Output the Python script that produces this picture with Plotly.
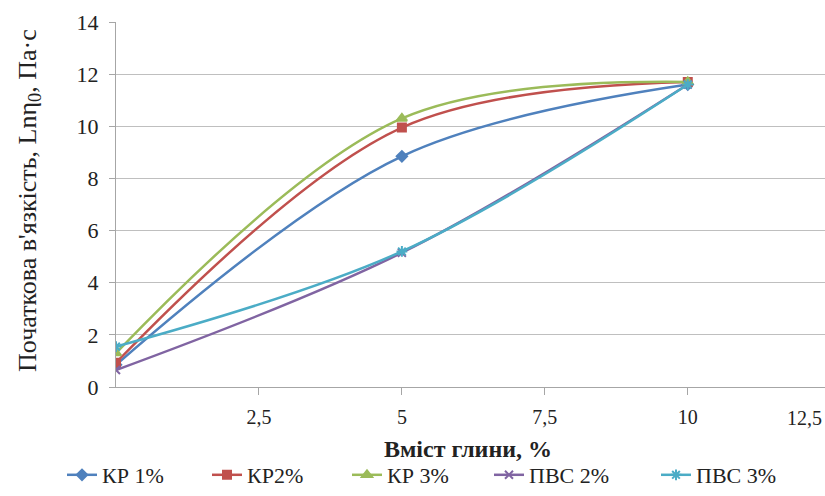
import plotly.graph_objects as go

x_vals = [0, 5, 10]
series_names = ["КР 1%", "КР2%", "КР 3%", "ПВС 2%", "ПВС 3%"]
kr1 = [0.85, 8.85, 11.6]
kr2 = [0.93, 9.95, 11.7]
kr3 = [1.3, 10.3, 11.7]
pvs2 = [0.65, 5.15, 11.6]
pvs3 = [1.55, 5.2, 11.6]
x_tickvals = [2.5, 5, 7.5, 10]
x_ticktext = ["2,5", "5", "7,5", "10"]
y_tickvals = [0, 2, 4, 6, 8, 10, 12, 14]

colors = ["#4F81BD", "#C0504D", "#9BBB59", "#8064A2", "#4BACC6"]
symbols = ["diamond", "square", "triangle-up", "x-thin-open", "asterisk-open"]
sizes = [8, 8, 9, 8, 9]
data = [kr1, kr2, kr3, pvs2, pvs3]
legend_ids = ["legend", "legend2", "legend3", "legend4", "legend5"]
legend_x_px = [62, 207, 347, 489, 656]

font_family = "Liberation Serif"

fig = go.Figure()
for name, ys, c, s, sz, lg in zip(series_names, data, colors, symbols, sizes, legend_ids):
    fig.add_trace(go.Scatter(
        x=x_vals, y=ys, name=name, mode="lines+markers", legend=lg,
        line=dict(color=c, width=2.5, shape="spline", smoothing=1.0),
        marker=dict(symbol=s, size=sz, color=c, line=dict(color=c, width=2)),
    ))

legend_layout = {}
for lg, px in zip(legend_ids, legend_x_px):
    legend_layout[lg] = dict(
        orientation="h", x=px / 825, xref="container", xanchor="left",
        y=0.0, yref="container", yanchor="bottom",
        font=dict(size=22, family=font_family, color="#222"),
        itemwidth=30, bgcolor="rgba(0,0,0,0)", borderwidth=0)

fig.update_layout(
    width=825, height=496,
    margin=dict(l=116, r=0, t=22, b=109, autoexpand=False),
    plot_bgcolor="white", paper_bgcolor="white",
    font=dict(family=font_family, size=20, color="#222"),
    showlegend=True,
    xaxis=dict(range=[0, 12.4], tickvals=x_tickvals, ticktext=x_ticktext,
               showgrid=False, zeroline=False, showline=True, linecolor="#A6A6A6",
               ticks="outside", ticklen=7, tickcolor="#A6A6A6",
               ticklabelstandoff=5, tickfont=dict(size=20, family=font_family)),
    yaxis=dict(range=[0, 14], tickvals=y_tickvals, showgrid=True, gridcolor="#BFBFBF",
               zeroline=False, showline=True, linecolor="#A6A6A6",
               ticks="outside", ticklen=6, tickcolor="#A6A6A6",
               ticklabelstandoff=6, tickfont=dict(size=22, family=font_family)),
    annotations=[
        dict(text="12,5", xref="paper", yref="paper", x=0.999, y=-0.085,
             xanchor="right", yanchor="middle", showarrow=False,
             font=dict(size=20, family=font_family)),
        dict(text="<b>Вміст глини, %</b>", xref="paper", yref="paper", x=0.496, y=-0.17,
             xanchor="center", yanchor="middle", showarrow=False,
             font=dict(size=24, family=font_family)),
        dict(text="Початкова в'язкість, Lnη<sub>0</sub>, Па·с", xref="paper", yref="paper",
             x=-0.123, y=0.512, xanchor="center", yanchor="middle", textangle=-90,
             showarrow=False, font=dict(size=26, family=font_family)),
    ],
)
fig.update_layout(**legend_layout)

fig.write_html("out.html", config={"displayModeBar": False},
               post_script="document.body.style.margin='0';document.body.style.overflow='hidden';")
